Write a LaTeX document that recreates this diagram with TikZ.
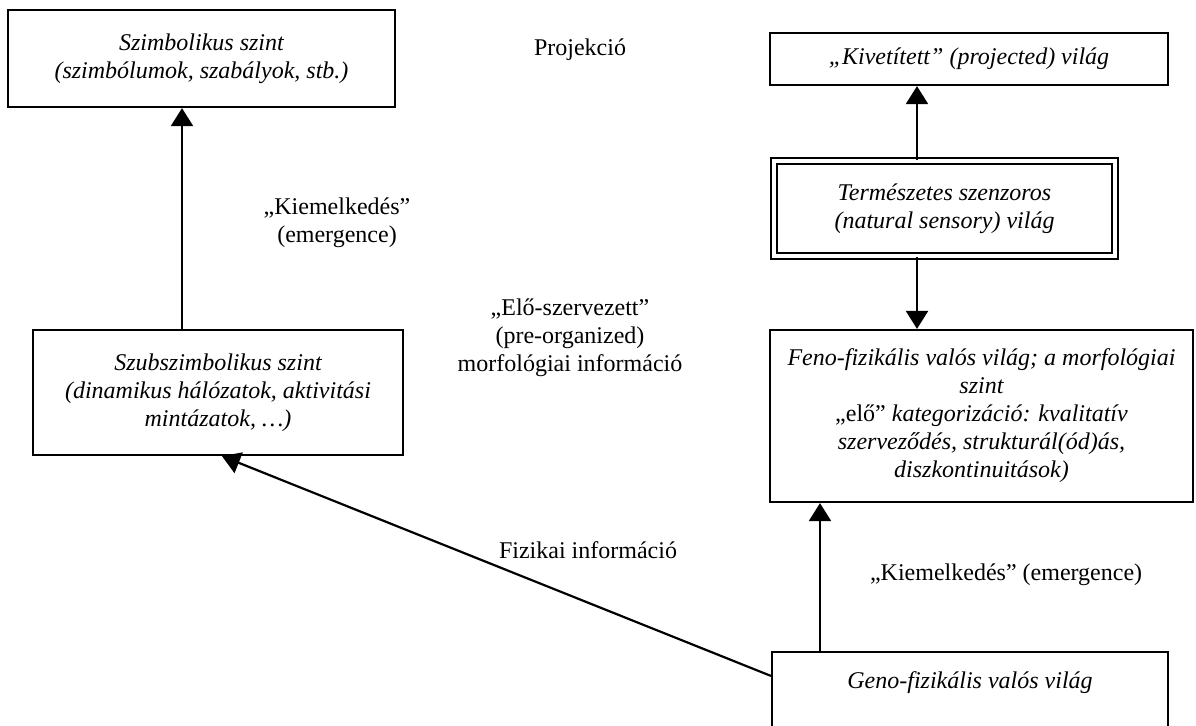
\documentclass[tikz,border=0pt]{standalone}
\usepackage{fontspec}
\setmainfont{Liberation Serif}
\usetikzlibrary{arrows.meta,positioning,calc}

\tikzset{
  box/.style={draw, line width=1.1pt, rectangle, align=center,
    font=\fontsize{12pt}{14pt}\selectfont\itshape, inner sep=0pt},
  dbox/.style={box, double, double distance=2.4pt, line width=0.75pt},
  lbl/.style={align=center, font=\fontsize{12pt}{14pt}\selectfont},
  arr/.style={line width=1.1pt, -{Triangle[width=11pt,length=9pt]}},
}

\begin{document}
\begin{tikzpicture}[x=0.5pt,y=-0.5pt]
\useasboundingbox (0,0) rectangle (1196,725);
\clip (0,0) rectangle (1196,725);
% levels, left column
\node (szimb) [box, minimum width=193.5pt, minimum height=48.5pt] at (201.5,58.5)
  {Szimbolikus szint\\(szimbólumok, szabályok, stb.)};
\node (subszimb) [box, minimum width=185pt, minimum height=62.5pt] at (218,392.5)
  {Szubszimbolikus szint\\(dinamikus hálózatok, aktivitási\\mintázatok, \ldots)};
% worlds, right column
\node (kivet) [box, minimum width=199pt, minimum height=26pt] at (969,59)
  {„Kivetített” (projected) világ};
\node (termesz) [dbox, minimum width=170.5pt, minimum height=47.5pt] at (944.5,208.5)
  {Természetes szenzoros\\(natural sensory) világ};
\node (feno) [box, minimum width=211.5pt, minimum height=86pt] at (981.5,416)
  {Feno-fizikális valós világ; a morfológiai\\szint\\{\upshape„elő”} kategorizáció: kvalitatív\\szerveződés, strukturál(ód)ás,\\diszkontinuitások)};
\node (geno) [box, minimum width=198pt, minimum height=54pt, text height=9pt, text depth=27pt] at (970,706)
  {Geno-fizikális valós világ};
% labels
\node (proj) [lbl] at (580,50) {Projekció};
\node (kiemL) [lbl] at (337,223) {„Kiemelkedés”\\(emergence)};
\node (elo) [lbl] at (570,338) {„Elő-szervezett”\\(pre-organized)\\morfológiai információ};
\node (fiz) [lbl] at (588,550) {Fizikai információ};
\node (kiemR) [lbl, anchor=west] at (863,575) {„Kiemelkedés” (emergence)};
% connectors
\coordinate (emL) at (182,0);
\coordinate (projx) at (917,0);
\coordinate (riseR) at (820,0);
\draw[arr] (emL |- subszimb.north) -- (emL |- szimb.south);
\draw[arr] (projx |- termesz.north) -- (projx |- kivet.south);
\draw[arr] (projx |- termesz.south) -- (projx |- feno.north);
\draw[arr] (riseR |- geno.north) -- (riseR |- feno.south);
\draw[arr] ([yshift=-12.5pt]geno.north west) -- ([xshift=2pt]subszimb.south);
\end{tikzpicture}
\end{document}
